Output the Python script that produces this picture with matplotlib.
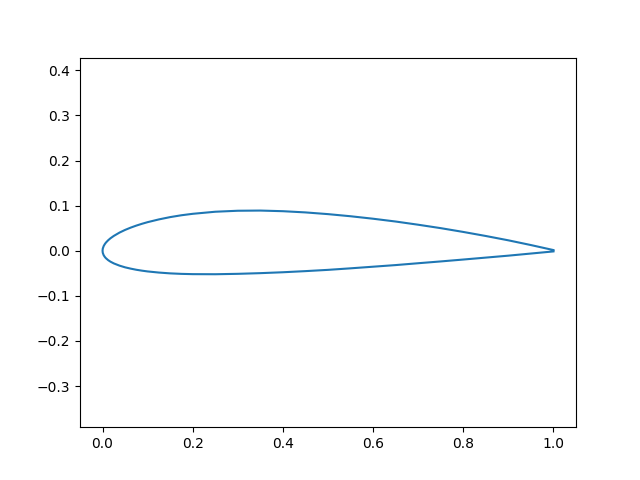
import matplotlib
matplotlib.use("Agg")
import matplotlib.pyplot as plt
import numpy as np

# Airfoil coordinates
# upper surface (trailing edge -> leading edge)
upper_x = [1.0, 0.95, 0.9, 0.85, 0.8, 0.75, 0.7, 0.65, 0.6, 0.55, 0.5, 0.45, 0.4, 0.35, 0.3, 0.25, 0.2, 0.175, 0.15, 0.125, 0.1, 0.0875, 0.075, 0.0625, 0.05, 0.0375, 0.025, 0.0175, 0.0125, 0.0075, 0.005, 0.0025, 0.0005, 0.0]
upper_y = [0.0015, 0.0126, 0.0231, 0.0327, 0.0417, 0.0501, 0.0577, 0.0648, 0.0710, 0.0765, 0.0812, 0.0850, 0.0877, 0.0891, 0.0887, 0.0865, 0.0819, 0.0787, 0.0746, 0.0695, 0.0634, 0.0598, 0.0558, 0.0513, 0.0462, 0.0402, 0.0329, 0.0276, 0.0233, 0.0181, 0.0147, 0.0104, 0.0047, 0.0]
# lower surface (leading edge -> trailing edge)
lower_x = [0.0, 0.0005, 0.0025, 0.005, 0.0075, 0.0125, 0.0175, 0.025, 0.0375, 0.05, 0.0625, 0.075, 0.0875, 0.1, 0.125, 0.15, 0.175, 0.2, 0.25, 0.3, 0.35, 0.4, 0.45, 0.5, 0.55, 0.6, 0.65, 0.7, 0.75, 0.8, 0.85, 0.9, 0.95, 1.0]
lower_y = [0.0, -0.0046, -0.0099, -0.0137, -0.0166, -0.0209, -0.0242, -0.0281, -0.0330, -0.0368, -0.0397, -0.0422, -0.0442, -0.0459, -0.0484, -0.0502, -0.0513, -0.0519, -0.0521, -0.0512, -0.0497, -0.0477, -0.0452, -0.0424, -0.0390, -0.0354, -0.0318, -0.0277, -0.0237, -0.0195, -0.0152, -0.0109, -0.0062, -0.0015]

x = np.array(upper_x + lower_x[1:])
y = np.array(upper_y + lower_y[1:])

fig, ax = plt.subplots(figsize=(6.4, 4.8), dpi=100)
ax.plot(x, y)
ax.axis('equal')
fig.savefig("out.png")
